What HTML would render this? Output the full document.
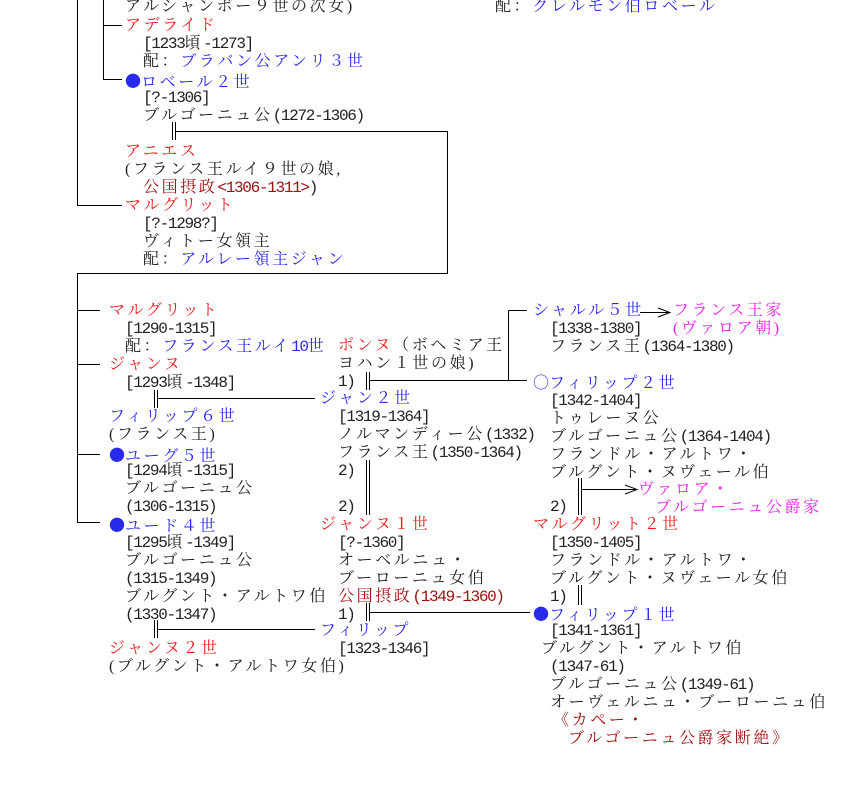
<!DOCTYPE html>
<html><head><meta charset="utf-8"><style>
html,body{margin:0;padding:0;background:#fff;}
#c{position:relative;width:860px;height:800px;overflow:hidden;background:#fff;}
.t{position:absolute;white-space:nowrap;font-family:"Liberation Serif","Noto Serif CJK SC","Noto Sans CJK JP",serif;font-size:16px;line-height:18px;color:#222;letter-spacing:2.6px;margin-top:1px;}
n{letter-spacing:-1.3px;font-family:"Liberation Mono",monospace;font-size:16px;}
.o{letter-spacing:0;font-family:"Noto Sans CJK JP",sans-serif;font-size:16px;}
.r{color:#ee1c1c;}.b{color:#2a2aee;}.m{color:#ee22ee;}.d{color:#a01010;}
svg{position:absolute;left:0;top:0;}
</style></head><body><div id="c">
<svg width="860" height="800" stroke="#000" stroke-width="1" fill="none">
<path d="M77.5 0V205.5H122M103.5 0V79.5H122M103.5 25.5H122"/>
<path d="M172.5 122V140M175.5 122V140M175 131.5H447.5V273.5H77.5V522.5H100M77.5 310.5H100M77.5 364.5H100M77.5 454.5H100"/>
<path d="M154.5 390V408M157.5 390V408M157 398.5H315"/>
<path d="M154.5 620V638M157.5 620V638M157 629.5H315"/>
<path d="M366.5 372V390M369.5 372V390M369 380.5H527M508.5 310.5V380.5M508.5 310.5H527"/>
<path d="M366.5 460V515M369.5 460V515"/>
<path d="M366.5 603V621M369.5 603V621M369 612.5H530"/>
<path d="M578.5 478V515M581.5 478V515M581 489.5H637M625 485L637 489.5L625 494"/>
<path d="M578.5 585V605M581.5 585V605"/>
<path d="M640 312.5H670M658 308L670 312.5L658 317"/>
</svg>
<div class="t" style="left:125px;top:-3px">アルシャンボー９世の次女)</div>
<div class="t" style="left:495px;top:-3px">配：<span class="b">クレルモン伯ロベール</span></div>
<div class="t r" style="left:125px;top:16px">アデライド</div>
<div class="t" style="left:143px;top:34px"><n>[1233</n>頃<n>-1273]</n></div>
<div class="t" style="left:143px;top:52px">配：<span class="b">ブラバン公アンリ３世</span></div>
<div class="t b" style="left:125px;top:70px"><span class="o">●</span>ロベール２世</div>
<div class="t" style="left:143px;top:88px"><n>[?-1306]</n></div>
<div class="t" style="left:143px;top:106px">ブルゴーニュ公<n>(1272-1306)</n></div>
<div class="t r" style="left:125px;top:142px">アニエス</div>
<div class="t" style="left:125px;top:160px">(フランス王ルイ９世の娘,</div>
<div class="t" style="left:143px;top:178px"><span class="d">公国摂政<n>&lt;1306-1311&gt;</n></span><n>)</n></div>
<div class="t r" style="left:125px;top:196px">マルグリット</div>
<div class="t" style="left:143px;top:214px"><n>[?-1298?]</n></div>
<div class="t" style="left:143px;top:232px">ヴィトー女領主</div>
<div class="t" style="left:143px;top:250px">配：<span class="b">アルレー領主ジャン</span></div>

<div class="t r" style="left:109px;top:301px">マルグリット</div>
<div class="t" style="left:125px;top:319px"><n>[1290-1315]</n></div>
<div class="t" style="left:125px;top:337px">配：<span class="b">フランス王ルイ<n>10</n>世</span></div>
<div class="t r" style="left:109px;top:355px">ジャンヌ</div>
<div class="t" style="left:125px;top:373px"><n>[1293</n>頃<n>-1348]</n></div>
<div class="t b" style="left:109px;top:407px">フィリップ６世</div>
<div class="t" style="left:109px;top:425px">(フランス王)</div>
<div class="t b" style="left:109px;top:444px"><span class="o">●</span>ユーグ５世</div>
<div class="t" style="left:125px;top:461px"><n>[1294</n>頃<n>-1315]</n></div>
<div class="t" style="left:125px;top:479px">ブルゴーニュ公</div>
<div class="t" style="left:125px;top:497px"><n>(1306-1315)</n></div>
<div class="t b" style="left:109px;top:514px"><span class="o">●</span>ユード４世</div>
<div class="t" style="left:125px;top:533px"><n>[1295</n>頃<n>-1349]</n></div>
<div class="t" style="left:125px;top:551px">ブルゴーニュ公</div>
<div class="t" style="left:125px;top:569px"><n>(1315-1349)</n></div>
<div class="t" style="left:125px;top:587px">ブルグント・アルトワ伯</div>
<div class="t" style="left:125px;top:605px"><n>(1330-1347)</n></div>
<div class="t r" style="left:109px;top:639px">ジャンヌ２世</div>
<div class="t" style="left:109px;top:657px">(ブルグント・アルトワ女伯)</div>

<div class="t" style="left:338px;top:336px"><span class="r">ボンヌ</span>（ボヘミア王</div>
<div class="t" style="left:338px;top:354px">ヨハン１世の娘)</div>
<div class="t" style="left:338px;top:372px"><n>1)</n></div>
<div class="t b" style="left:320px;top:389px">ジャン２世</div>
<div class="t" style="left:338px;top:407px"><n>[1319-1364]</n></div>
<div class="t" style="left:338px;top:425px">ノルマンディー公<n>(1332)</n></div>
<div class="t" style="left:338px;top:443px">フランス王<n>(1350-1364)</n></div>
<div class="t" style="left:338px;top:461px"><n>2)</n></div>
<div class="t" style="left:338px;top:497px"><n>2)</n></div>
<div class="t r" style="left:320px;top:515px">ジャンヌ１世</div>
<div class="t" style="left:338px;top:533px"><n>[?-1360]</n></div>
<div class="t" style="left:338px;top:551px">オーベルニュ・</div>
<div class="t" style="left:338px;top:569px">ブーローニュ女伯</div>
<div class="t d" style="left:338px;top:587px">公国摂政<n>(1349-1360)</n></div>
<div class="t" style="left:338px;top:605px"><n>1)</n></div>
<div class="t b" style="left:320px;top:621px">フィリップ</div>
<div class="t" style="left:338px;top:639px"><n>[1323-1346]</n></div>

<div class="t b" style="left:533px;top:301px">シャルル５世</div>
<div class="t m" style="left:673px;top:301px">フランス王家</div>
<div class="t" style="left:550px;top:319px"><n>[1338-1380]</n></div>
<div class="t m" style="left:673px;top:319px">(ヴァロア朝)</div>
<div class="t" style="left:550px;top:337px">フランス王<n>(1364-1380)</n></div>
<div class="t b" style="left:533px;top:371px"><span class="o">○</span>フィリップ２世</div>
<div class="t" style="left:550px;top:391px"><n>[1342-1404]</n></div>
<div class="t" style="left:550px;top:409px">トゥレーヌ公</div>
<div class="t" style="left:550px;top:427px">ブルゴーニュ公<n>(1364-1404)</n></div>
<div class="t" style="left:550px;top:445px">フランドル・アルトワ・</div>
<div class="t" style="left:550px;top:463px">ブルグント・ヌヴェール伯</div>
<div class="t m" style="left:638px;top:480px">ヴァロア・</div>
<div class="t m" style="left:655px;top:498px">ブルゴーニュ公爵家</div>
<div class="t" style="left:550px;top:497px"><n>2)</n></div>
<div class="t r" style="left:533px;top:515px">マルグリット２世</div>
<div class="t" style="left:550px;top:533px"><n>[1350-1405]</n></div>
<div class="t" style="left:550px;top:551px">フランドル・アルトワ・</div>
<div class="t" style="left:550px;top:569px">ブルグント・ヌヴェール女伯</div>
<div class="t" style="left:550px;top:587px"><n>1)</n></div>
<div class="t b" style="left:533px;top:603px"><span class="o">●</span>フィリップ１世</div>
<div class="t" style="left:550px;top:621px"><n>[1341-1361]</n></div>
<div class="t" style="left:541px;top:639px">ブルグント・アルトワ伯</div>
<div class="t" style="left:550px;top:657px"><n>(1347-61)</n></div>
<div class="t" style="left:550px;top:675px">ブルゴーニュ公<n>(1349-61)</n></div>
<div class="t" style="left:550px;top:693px">オーヴェルニュ・ブーローニュ伯</div>
<div class="t d" style="left:553px;top:711px">《カペー・</div>
<div class="t d" style="left:568px;top:729px">ブルゴーニュ公爵家断絶》</div>
</div></body></html>
